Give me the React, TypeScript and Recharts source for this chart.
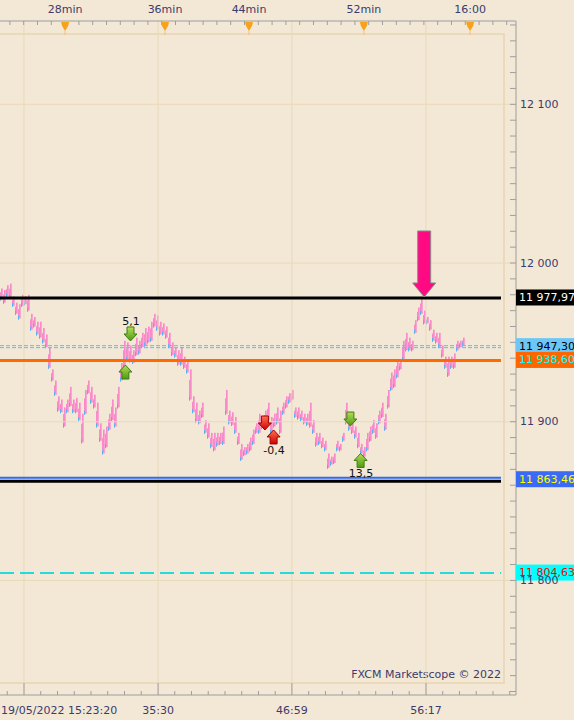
import React from "react";
import { Bar, ComposedChart, ReferenceDot, ReferenceLine, XAxis, YAxis } from "recharts";

// bar highs / lows, one bar per slot
const highs = [
  11984, 11983, 11986, 11987, 11979, 11975, 11974, 11980, 11979, 11980,
  11968, 11966, 11963, 11963, 11959, 11955, 11947, 11933, 11926, 11916,
  11914, 11909, 11914, 11922, 11914, 11915, 11912, 11905, 11920, 11926,
  11922, 11917, 11912, 11899, 11895, 11897, 11905, 11914, 11909, 11922,
  11937, 11951, 11950, 11948, 11945, 11953, 11951, 11956, 11959, 11960,
  11963, 11968, 11967, 11963, 11962, 11960, 11956, 11950, 11947, 11945,
  11947, 11941, 11939, 11933, 11916, 11912, 11907, 11912, 11901, 11899,
  11893, 11893, 11893, 11893, 11897, 11920, 11907, 11906, 11903, 11893,
  11886, 11884, 11886, 11890, 11895, 11899, 11905, 11903, 11907, 11912,
  11903, 11905, 11909, 11907, 11912, 11916, 11918, 11920, 11909, 11909,
  11907, 11905, 11905, 11912, 11901, 11893, 11893, 11890, 11888, 11880,
  11878, 11880, 11888, 11886, 11893, 11912, 11901, 11899, 11897, 11893,
  11886, 11884, 11893, 11897, 11901, 11899, 11907, 11912, 11905, 11920,
  11931, 11933, 11939, 11939, 11951, 11956, 11953, 11951, 11964, 11972,
  11978, 11970, 11966, 11964, 11958, 11956, 11956, 11948, 11941, 11941,
  11941, 11943, 11951, 11951, 11953,
];
const lows = [
  11977, 11975, 11979, 11978, 11973, 11968, 11965, 11973, 11974, 11970,
  11958, 11960, 11955, 11953, 11950, 11947, 11934, 11926, 11917, 11907,
  11906, 11897, 11906, 11910, 11906, 11906, 11901, 11887, 11905, 11918,
  11912, 11909, 11897, 11888, 11880, 11884, 11895, 11901, 11897, 11909,
  11926, 11934, 11939, 11938, 11937, 11942, 11943, 11947, 11948, 11950,
  11951, 11960, 11958, 11955, 11955, 11953, 11947, 11942, 11941, 11936,
  11936, 11934, 11931, 11914, 11906, 11900, 11899, 11903, 11893, 11890,
  11884, 11882, 11885, 11886, 11886, 11905, 11899, 11898, 11893, 11886,
  11876, 11879, 11880, 11882, 11886, 11893, 11893, 11896, 11899, 11901,
  11893, 11897, 11899, 11893, 11905, 11909, 11912, 11914, 11903, 11902,
  11901, 11899, 11898, 11897, 11893, 11885, 11886, 11884, 11882, 11871,
  11873, 11874, 11882, 11882, 11888, 11899, 11895, 11893, 11890, 11884,
  11880, 11878, 11882, 11888, 11893, 11890, 11899, 11903, 11895, 11909,
  11920, 11922, 11928, 11933, 11939, 11945, 11945, 11945, 11956, 11964,
  11968, 11962, 11962, 11958, 11951, 11950, 11947, 11941, 11934, 11929,
  11934, 11934, 11945, 11947, 11948,
];

const topTickPos = [21.2, 54.5, 82.5, 120.8, 156.2];
const topTickLabels = ["28min", "36min", "44min", "52min", "16:00"];
const bottomTickPos = [7.5, 52.2, 96.8, 141.5];
const bottomTickLabels = ["19/05/2022 15:23:20", "35:30", "46:59", "56:17"];
const priceMajor = [11800, 11900, 12000, 12100];

const levelPrices = [11977.97, 11947.3, 11938.6, 11863.46, 11804.63];
const levelLabels = ["11 977,97", "11 947,30", "11 938,60", "11 863,46", "11 804,63"];

const signalX = [43.0, 41.3, 87.8, 90.7, 116.3, 119.7, 140.9];
const signalPrice = [11955.3, 11931.3, 11899.2, 11890.4, 11901.7, 11875.6, 11978.6];
const signalKind = ["greenDown", "greenUp", "redDown", "redUp", "greenDown", "greenUp", "big"];
const signalText = ["5,1", "", "", "-0,4", "", "13,5", ""];

const levelStyles = [
  { kind: "solid", color: "#000000", width: 3, box: "#000000", text: "#ffffff" },
  { kind: "double", color: "#5FBDF0", width: 1, dash: "4 2", box: "#6CC7F8", text: "#000000" },
  { kind: "solid", color: "#FF6A00", width: 3, box: "#FF6600", text: "#00FFFF" },
  { kind: "blueBlack", color: "#2F6BF2", width: 2, box: "#3A6BF5", text: "#FFFF00" },
  { kind: "solid", color: "#22DCDC", width: 2, dash: "14 6", box: "#00FFFF", text: "#FF0000" },
];

const BG = "#F2E8D5";
const GRID = "#EAD9BA";
const AXIS = "#9E9E9E";
const TXT = "#3B3B6D";
const FONT = "'DejaVu Sans', Verdana, sans-serif";
const X_DOMAIN = [-0.5, 171.5];
const Y_DOMAIN = [11727.8, 12152.5];

const bars = highs.map((h, i) => ({ i, range: [lows[i], h] }));

const near = (list: number[], v: number) => list.findIndex((p) => Math.abs(p - v) < 0.5);

const topTicks: number[] = [...topTickPos];
for (let v = 2.8; v < 171; v += 4.6) if (near(topTickPos, v) < 0) topTicks.push(+v.toFixed(2));
topTicks.sort((a, b) => a - b);

const bottomTicks: number[] = [...bottomTickPos];
for (let v = 7.5 - 5.583; v < 171; v += 5.583) if (near(bottomTickPos, v) < 0) bottomTicks.push(+v.toFixed(2));
bottomTicks.sort((a, b) => a - b);

const priceTicks: number[] = [];
for (let v = 11730; v <= 12150; v += 10) priceTicks.push(v);

const fmtPrice = (v: number) => `${Math.floor(v / 1000)} ${String(v % 1000).padStart(3, "0")}`;

const TopTick = (p: any) => {
  const { x, y, payload } = p;
  const idx = near(topTickPos, payload.value);
  if (idx < 0) return <line x1={x} x2={x} y1={y} y2={y + 4} stroke={AXIS} />;
  return (
    <g>
      <text x={x} y={y - 12} textAnchor="middle" dominantBaseline="central" fontSize={11} fontFamily={FONT} fill={TXT}>
        {topTickLabels[idx]}
      </text>
      <path d={`M${x - 4},${y + 1} L${x + 4},${y + 1} L${x + 3},${y + 5} L${x},${y + 10} L${x - 3},${y + 5} Z`} fill="#F7A21B" />
      <line x1={x} x2={x} y1={y + 10} y2={y + 14} stroke="#F5C26B" />
    </g>
  );
};

const BottomTick = (p: any) => {
  const { x, y, payload } = p;
  const idx = near(bottomTickPos, payload.value);
  if (idx < 0) return <line x1={x} x2={x} y1={y - 4} y2={y} stroke={AXIS} />;
  return (
    <g>
      <line x1={x} x2={x} y1={y - 12} y2={y} stroke={AXIS} />
      <text
        x={idx === 0 ? x - 23 : x}
        y={y + 15}
        textAnchor={idx === 0 ? "start" : "middle"}
        dominantBaseline="central"
        fontSize={11}
        fontFamily={FONT}
        fill={TXT}
      >
        {bottomTickLabels[idx]}
      </text>
    </g>
  );
};

const PriceTick = (p: any) => {
  const { x, y, payload } = p;
  const ax = x - 4;
  const v = payload.value;
  return (
    <g>
      <line x1={ax - 6} x2={ax} y1={y} y2={y} stroke={AXIS} />
      {priceMajor.includes(v) && (
        <text x={ax + 4} y={y} dominantBaseline="central" fontSize={11} fontFamily={FONT} fill={TXT}>
          {fmtPrice(v)}
        </text>
      )}
    </g>
  );
};

const Candle = (p: any) => {
  const { x, y, width, height } = p;
  if (x == null || y == null) return null;
  const h = Math.max(height, 1);
  return (
    <g>
      <rect x={x + 1} y={y} width={width - 1} height={h} fill="#F98BCB" />
      <rect x={x} y={y + h * 0.35} width={1} height={h * 0.65 + 1} fill="#F98BCB" />
      <rect x={x} y={y + h - 3} width={1} height={4} fill="#5AB2F2" />
    </g>
  );
};

const levelShape = (idx: number) => (p: any) => {
  const s = levelStyles[idx];
  const left = Math.min(p.x1, p.x2);
  const right = Math.max(p.x1, p.x2);
  const y1 = p.y1;
  const end = right - 15;
  let lines;
  if (s.kind === "double") {
    lines = (
      <g>
        <line x1={left} x2={end} y1={y1 - 1} y2={y1 - 1} stroke={s.color} strokeWidth={1} strokeDasharray={s.dash} />
        <line x1={left} x2={end} y1={y1 + 1} y2={y1 + 1} stroke={s.color} strokeWidth={1} strokeDasharray={s.dash} />
      </g>
    );
  } else if (s.kind === "blueBlack") {
    lines = (
      <g>
        <line x1={left} x2={end} y1={y1 + 1.5} y2={y1 + 1.5} stroke="#000" strokeWidth={3} />
        <line x1={left} x2={end} y1={y1 - 2} y2={y1 - 2} stroke={s.color} strokeWidth={2} />
      </g>
    );
  } else {
    lines = <line x1={left} x2={end} y1={y1} y2={y1} stroke={s.color} strokeWidth={s.width} strokeDasharray={s.dash} />;
  }
  return (
    <g>
      {lines}
      <rect x={right} y={y1 - 8.5} width={60} height={16} fill={s.box} />
      <text x={right + 3} y={y1 - 0.5} dominantBaseline="central" fontSize={11} fontFamily={FONT} fill={s.text}>
        {levelLabels[idx]}
      </text>
    </g>
  );
};

const signalShape = (idx: number) => (p: any) => {
  const { cx, cy } = p;
  const kind = signalKind[idx];
  if (kind === "big") {
    const d = `M${cx - 6.5},${cy - 66} H${cx + 6.5} V${cy - 14} H${cx + 11.5} L${cx},${cy} L${cx - 11.5},${cy - 14} H${cx - 6.5} Z`;
    return <path d={d} fill="#FF0A82" stroke="#8A8A8A" strokeWidth={1} />;
  }
  const down = kind.endsWith("Down");
  const s = down ? 1 : -1;
  const green = kind.startsWith("green");
  const d = `M${cx - 3.5},${cy - 7 * s} H${cx + 3.5} V${cy} H${cx + 6.5} L${cx},${cy + 7 * s} L${cx - 6.5},${cy} H${cx - 3.5} Z`;
  return (
    <g>
      <path d={d} fill={green ? "url(#gGreen)" : "url(#gRed)"} stroke={green ? "#3F7D12" : "#A00000"} strokeWidth={1} />
      {signalText[idx] && (
        <text
          x={cx + 0.5}
          y={down ? cy - 12 : cy + 13.5}
          textAnchor="middle"
          dominantBaseline="central"
          fontSize={11}
          fontFamily={FONT}
          fill="#111"
        >
          {signalText[idx]}
        </text>
      )}
    </g>
  );
};

export default function App() {
  return (
    <div style={{ position: "absolute", left: 0, top: 0, width: 574, height: 720, background: BG, overflow: "hidden", fontFamily: FONT }}>
      <div
        style={{
          position: "absolute",
          left: -2,
          top: 33,
          width: 503,
          height: 647,
          border: `2px solid ${GRID}`,
        }}
      />
      <div
        style={{
          position: "absolute",
          left: 0,
          top: 668,
          width: 501,
          textAlign: "right",
          fontSize: 11,
          lineHeight: "14px",
          color: TXT,
        }}
      >
        FXCM Marketscope © 2022
      </div>
      <div style={{ position: "absolute", left: 0, top: 0 }}>
        <ComposedChart width={574} height={720} data={bars} margin={{ top: 0, right: 0, bottom: 0, left: 0 }}>
          <defs>
            <linearGradient id="gGreen" x1="0" y1="0" x2="0" y2="1">
              <stop offset="0%" stopColor="#B3DD55" />
              <stop offset="100%" stopColor="#4E9A14" />
            </linearGradient>
            <linearGradient id="gRed" x1="0" y1="0" x2="0" y2="1">
              <stop offset="0%" stopColor="#FF7050" />
              <stop offset="100%" stopColor="#D00000" />
            </linearGradient>
          </defs>
          <XAxis
            xAxisId="top"
            orientation="top"
            type="number"
            dataKey="i"
            domain={X_DOMAIN}
            allowDataOverflow
            ticks={topTicks}
            interval={0}
            height={21}
            tickSize={0}
            tickMargin={0}
            tickLine={false}
            axisLine={{ stroke: AXIS }}
            tick={TopTick}
          />
          <XAxis
            orientation="bottom"
            type="number"
            dataKey="i"
            domain={X_DOMAIN}
            allowDataOverflow
            ticks={bottomTicks}
            interval={0}
            height={25}
            tickSize={0}
            tickMargin={0}
            tickLine={false}
            axisLine={{ stroke: AXIS }}
            tick={BottomTick}
          />
          <YAxis
            orientation="right"
            type="number"
            domain={Y_DOMAIN}
            allowDataOverflow
            ticks={priceTicks}
            interval={0}
            width={58}
            tickSize={0}
            tickMargin={4}
            tickLine={false}
            axisLine={{ stroke: AXIS }}
            tick={PriceTick}
          />
          {bottomTickPos.map((v) => (
            <ReferenceLine key={`gx${v}`} x={v} stroke={GRID} strokeWidth={1} />
          ))}
          {priceMajor.map((v) => (
            <ReferenceLine key={`gy${v}`} y={v} stroke={GRID} strokeWidth={1} />
          ))}
          <Bar dataKey="range" barSize={3} fill="#F98BCB" shape={Candle} isAnimationActive={false} />
          {levelPrices.map((v, idx) => (
            <ReferenceLine key={`lv${idx}`} y={v} shape={levelShape(idx)} zIndex={1600} />
          ))}
          {signalX.map((x, idx) => (
            <ReferenceDot key={`sg${idx}`} x={x} y={signalPrice[idx]} r={7} shape={signalShape(idx)} zIndex={1700} />
          ))}
        </ComposedChart>
      </div>
    </div>
  );
}
